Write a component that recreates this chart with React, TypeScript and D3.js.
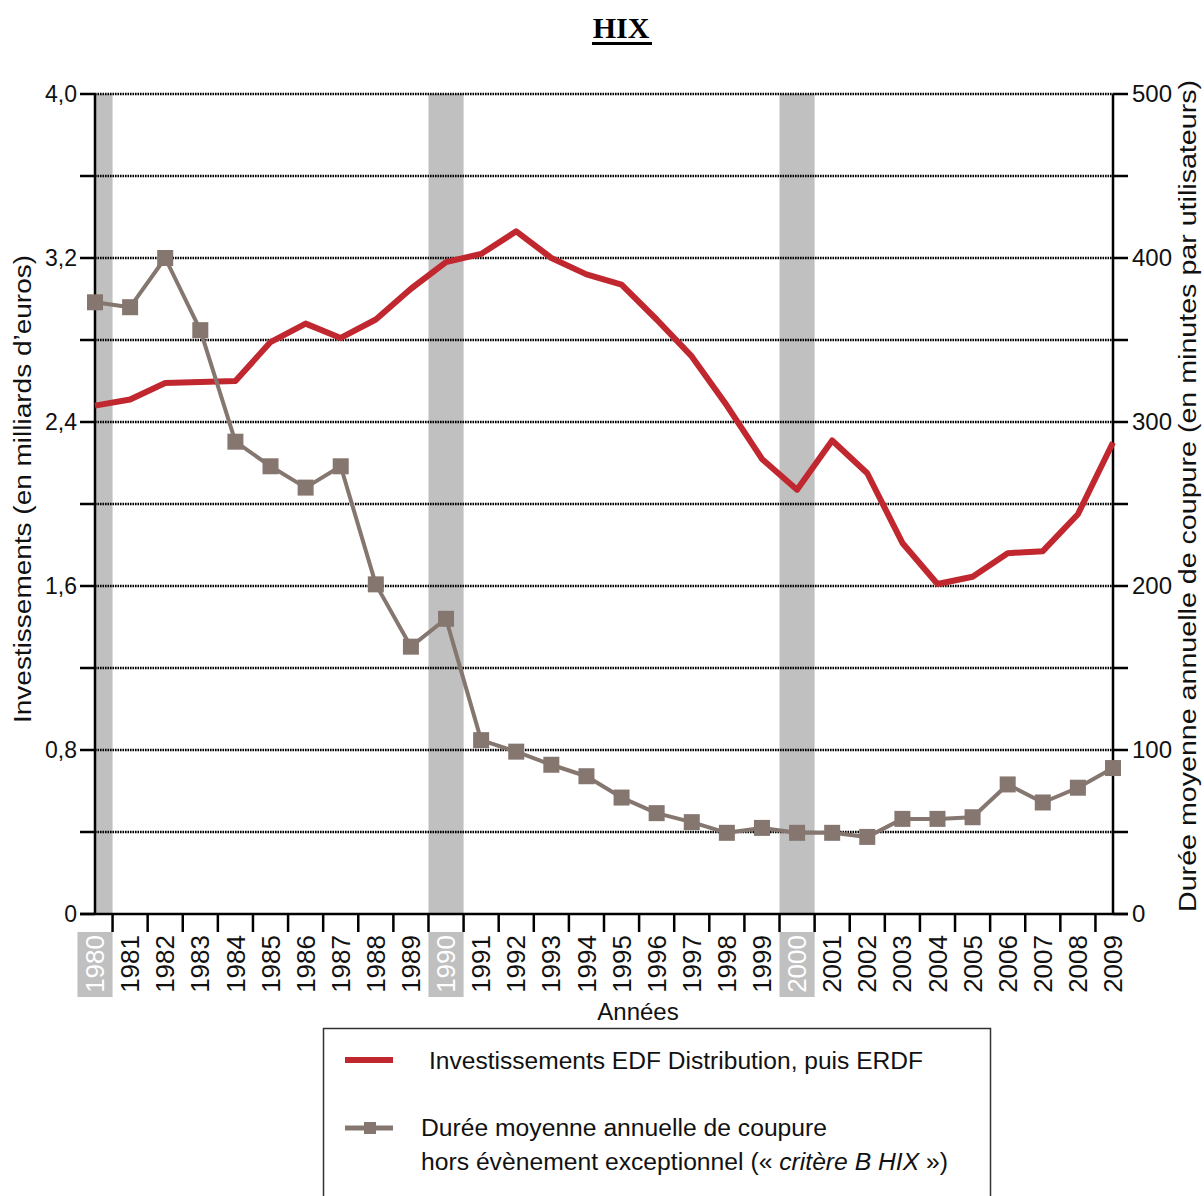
import * as d3 from "d3";

// years on the x axis
const years = d3.range(1980, 2010);

// Investissements EDF Distribution, puis ERDF (milliards d'euros)
const investissements = [
  2.48, 2.51, 2.59, 2.595, 2.6, 2.79, 2.88, 2.81, 2.9, 3.05,
  3.18, 3.22, 3.33, 3.2, 3.12, 3.07, 2.9, 2.72, 2.48, 2.22,
  2.07, 2.31, 2.15, 1.81, 1.61, 1.645, 1.76, 1.77, 1.95, 2.3,
];

// Durée moyenne annuelle de coupure, critère B HIX (minutes)
const dureeCoupure = [
  373, 370, 400, 356, 288, 273, 260, 273, 201, 163,
  180, 106, 99, 91, 84, 71, 61.5, 56, 49.5, 52.5,
  49.5, 49.5, 47, 58, 58, 59, 79, 68, 77, 89,
];

const highlightYears = [1980, 1990, 2000];
const leftTicks = [0, 0.8, 1.6, 2.4, 3.2, 4.0];
const rightTicks = [0, 100, 200, 300, 400, 500];

const W = 1204;
const H = 1196;
const M = { left: 95, right: 1113, top: 94, bottom: 914 };
const RED = "#c1272f";
const GREY = "#857670";
const BAND = "#c0c0c0";
const FONT = "'Liberation Sans', Arial, sans-serif";

export default function App() {
  const x = d3.scaleLinear().domain([1980, 2009]).range([M.left, M.right]);
  const yL = d3.scaleLinear().domain([0, 4]).range([M.bottom, M.top]);
  const yR = d3.scaleLinear().domain([0, 500]).range([M.bottom, M.top]);
  const step = x(1981) - x(1980);

  const redLine = d3
    .line<number>()
    .x((_, i) => x(years[i]))
    .y((d) => yL(d))(investissements);
  const greyLine = d3
    .line<number>()
    .x((_, i) => x(years[i]))
    .y((d) => yR(d))(dureeCoupure);

  const gridVals = d3.range(1, 11).map((i) => i * 0.4);
  const minorL = d3.range(0, 11).map((i) => i * 0.4);
  const minorR = d3.range(0, 11).map((i) => i * 50);
  const tickYears = years.slice(0, -1).map((y) => y + 0.5);

  return (
    <svg width={W} height={H} viewBox={`0 0 ${W} ${H}`} style={{ display: "block", position: "absolute", left: 0, top: 0 }}>
      <rect width={W} height={H} fill="#fff" />

      {/* title */}
      <text x={621} y={38} textAnchor="middle" fontFamily="'Liberation Serif', 'Times New Roman', serif" fontWeight="bold" fontSize={30}>
        HIX
      </text>
      <rect x={592} y={42} width={60} height={3} fill="#000" />

      {/* shaded decade bands */}
      <clipPath id="plot">
        <rect x={M.left} y={M.top} width={M.right - M.left} height={M.bottom - M.top} />
      </clipPath>
      <g clipPath="url(#plot)">
        {highlightYears.map((yr) => (
          <rect key={yr} x={x(yr) - step / 2} y={M.top} width={step} height={M.bottom - M.top} fill={BAND} />
        ))}
      </g>

      {/* dotted gridlines */}
      {gridVals.map((v) => (
        <line key={v} x1={M.left} x2={M.right} y1={yL(v)} y2={yL(v)} stroke="#000" strokeWidth={2.6} strokeDasharray="1.6 0.9" />
      ))}

      {/* axes */}
      <line x1={M.left} x2={M.left} y1={M.top} y2={M.bottom} stroke="#000" strokeWidth={2.5} />
      <line x1={M.right} x2={M.right} y1={M.top} y2={M.bottom} stroke="#000" strokeWidth={2.5} />
      <line x1={80} x2={1128} y1={M.bottom} y2={M.bottom} stroke="#000" strokeWidth={2.5} />
      {minorL.map((v) => (
        <line key={v} x1={80} x2={M.left} y1={yL(v)} y2={yL(v)} stroke="#000" strokeWidth={2.5} />
      ))}
      {minorR.map((v) => (
        <line key={v} x1={M.right} x2={1128} y1={yR(v)} y2={yR(v)} stroke="#000" strokeWidth={2.5} />
      ))}
      {tickYears.map((v) => (
        <line key={v} x1={x(v)} x2={x(v)} y1={M.bottom} y2={932} stroke="#000" strokeWidth={2.5} />
      ))}

      {leftTicks.map((v) => (
        <text key={v} x={77} y={yL(v)} dy="0.35em" textAnchor="end" fontFamily={FONT} fontSize={23} fill="#111">
          {v === 0 ? "0" : v.toFixed(1).replace(".", ",")}
        </text>
      ))}
      {rightTicks.map((v) => (
        <text key={v} x={1132} y={yR(v)} dy="0.35em" textAnchor="start" fontFamily={FONT} fontSize={24} fill="#111">
          {v}
        </text>
      ))}

      {/* year labels */}
      {highlightYears.map((yr) => (
        <rect key={yr} x={x(yr) - step / 2} y={932} width={step} height={65} fill={BAND} />
      ))}
      {years.map((yr) => (
        <text
          key={yr}
          transform={`translate(${x(yr)},935) rotate(-90)`}
          dy="0.35em"
          textAnchor="end"
          fontFamily={FONT}
          fontSize={26}
          fill={highlightYears.includes(yr) ? "#fff" : "#111"}
        >
          {yr}
        </text>
      ))}

      {/* axis titles */}
      <text x={638} y={1020} textAnchor="middle" fontFamily={FONT} fontSize={24} fill="#111">
        Années
      </text>
      <text transform="translate(31,489) rotate(-90)" textAnchor="middle" fontFamily={FONT} fontSize={23} fill="#111" textLength={468} lengthAdjust="spacingAndGlyphs">
        Investissements (en milliards d’euros)
      </text>
      <text transform="translate(1196,496) rotate(-90)" textAnchor="middle" fontFamily={FONT} fontSize={23} fill="#111" textLength={832} lengthAdjust="spacingAndGlyphs">
        Durée moyenne annuelle de coupure (en minutes par utilisateurs)
      </text>

      {/* series */}
      <path d={redLine ?? ""} fill="none" stroke={RED} strokeWidth={6} strokeLinejoin="round" />
      <path d={greyLine ?? ""} fill="none" stroke={GREY} strokeWidth={4} strokeLinejoin="round" />
      {dureeCoupure.map((v, i) => (
        <rect key={i} x={x(years[i]) - 8} y={yR(v) - 8} width={16} height={16} fill={GREY} />
      ))}

      {/* legend */}
      <rect x={323.5} y={1028.5} width={667} height={200} fill="none" stroke="#333" strokeWidth={1.5} />
      <line x1={345} x2={393} y1={1060} y2={1060} stroke={RED} strokeWidth={6} />
      <text x={429} y={1069} fontFamily={FONT} fontSize={23} fill="#111" textLength={494} lengthAdjust="spacingAndGlyphs">
        Investissements EDF Distribution, puis ERDF
      </text>
      <line x1={345} x2={393} y1={1128} y2={1128} stroke={GREY} strokeWidth={5} />
      <rect x={364} y={1122} width={12} height={12} fill={GREY} />
      <text x={421} y={1136} fontFamily={FONT} fontSize={23} fill="#111" textLength={406} lengthAdjust="spacingAndGlyphs">
        Durée moyenne annuelle de coupure
      </text>
      <text x={421} y={1170} fontFamily={FONT} fontSize={23} fill="#111" textLength={527} lengthAdjust="spacingAndGlyphs">
        hors évènement exceptionnel (« <tspan fontStyle="italic">critère B HIX</tspan> »)
      </text>
    </svg>
  );
}
